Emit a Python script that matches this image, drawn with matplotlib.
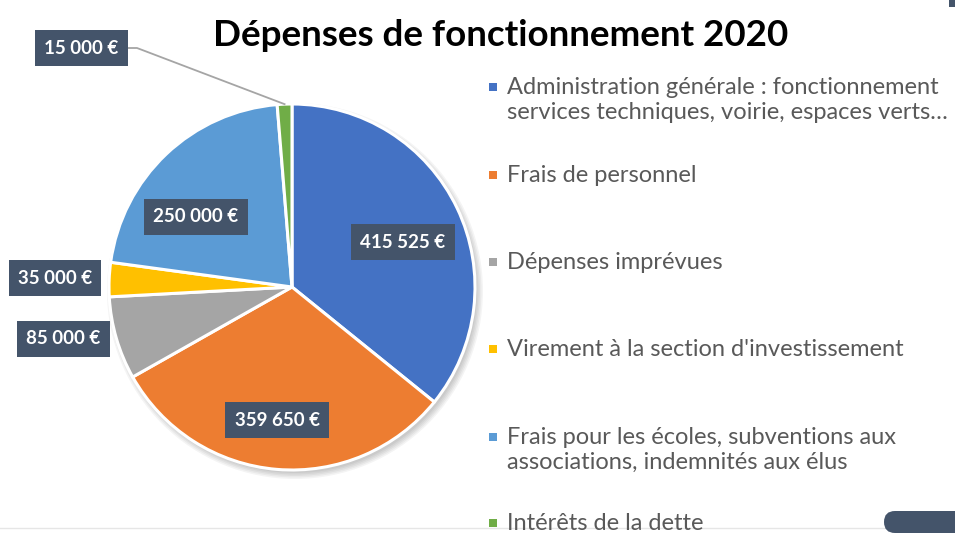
import numpy as np
import matplotlib.pyplot as plt
from matplotlib.patches import Circle, FancyBboxPatch, Rectangle

plt.rcParams['font.family'] = ['Lato', 'DejaVu Sans']

W, H = 955, 536

labels = ["Administration générale : fonctionnement\nservices techniques, voirie, espaces verts…",
          "Frais de personnel",
          "Dépenses imprévues",
          "Virement à la section d'investissement",
          "Frais pour les écoles, subventions aux\nassociations, indemnités aux élus",
          "Intérêts de la dette"]
values = [415525, 359650, 85000, 35000, 250000, 15000]
colors = ['#4472C4', '#ED7D31', '#A5A5A5', '#FFC000', '#5B9BD5', '#70AD47']
box_col = '#44546A'

# pie geometry (pixels)
cx, cy, R = 292, H - 287, 183

# where the data labels sit (pixels from top-left, like Excel's "best fit")
label_pos = [(403, 242), (277, 420), (63, 339), (55, 278), (196, 217), (81, 48)]

fig = plt.figure(figsize=(W / 100, H / 100), dpi=100)
ax = fig.add_axes([0, 0, 1, 1])

# soft shadow
for k in range(5):
    ax.add_patch(Circle((cx + 3, cy - 4), R + 5 - k * 1.5, color='black', alpha=0.045, lw=0, zorder=0))

wedges, _ = ax.pie(values, colors=colors, startangle=90, counterclock=False,
                   center=(cx, cy), radius=R,
                   wedgeprops=dict(edgecolor='white', linewidth=2.2))

def fmt(v):
    return "{:,}".format(v).replace(",", " ") + " €"

for v, (x, y) in zip(values, label_pos):
    ax.text(x, H - y, fmt(v), ha='center', va='center', color='white', fontsize=13.5,
            fontweight='bold', zorder=5,
            bbox=dict(boxstyle='square,pad=0.5', fc=box_col, ec='none'))

# leader line for the small slice
w = wedges[5]
ang = np.deg2rad((w.theta1 + w.theta2) / 2)
tip = (cx + R * np.cos(ang), cy + R * np.sin(ang))
lx, ly = label_pos[5][0], H - label_pos[5][1]
ax.plot([lx + 46, lx + 56, tip[0]], [ly, ly, tip[1]], color='#A5A5A5', lw=1.3, zorder=4)

# title
ax.text(501, H - 36, "Dépenses de fonctionnement 2020", ha='center', va='center',
        fontsize=26.5, fontweight='bold', color='black')

# legend, placed by hand (entries are not evenly spaced)
leg_y = [87, 175, 262, 349, 437, 523]
for lab, col, y in zip(labels, colors, leg_y):
    ax.add_patch(Rectangle((489, H - y - 4), 8, 8, color=col, lw=0))
    ax.text(507, H - y + 10, lab, ha='left', va='top', fontsize=17, color='#595959',
            linespacing=1.22)

# slide decorations
ax.plot([0, W], [H - 528, H - 528], color='#E6E6E6', lw=1, zorder=0)
ax.add_patch(FancyBboxPatch((884, H - 533), 90, 22, boxstyle='round,pad=0,rounding_size=11',
                            fc=box_col, ec='none'))
ax.add_patch(Rectangle((949, H - 7), 8, 8, color=box_col, lw=0))

ax.set_xlim(0, W)
ax.set_ylim(0, H)
ax.set_aspect('equal')
ax.axis('off')

fig.savefig('out.png', dpi=100)
